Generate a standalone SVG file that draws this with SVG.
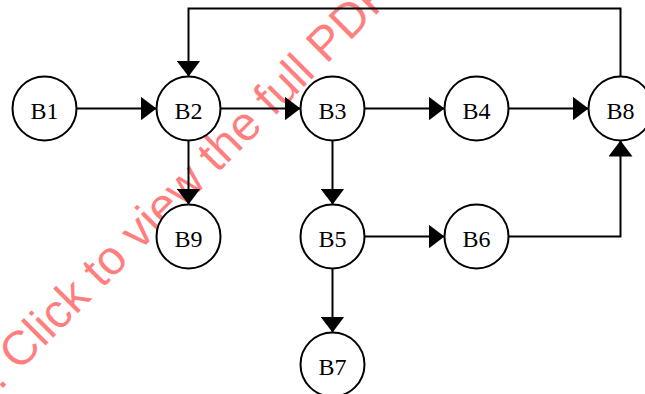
<svg xmlns="http://www.w3.org/2000/svg" width="645" height="394" viewBox="0 0 645 394">
<style>
.node circle{fill:#fff;stroke:#000;stroke-width:2}
.node text{font-family:"Liberation Serif",serif;font-size:24px;text-anchor:middle;fill:#000}
.edge{fill:none;stroke:#000;stroke-width:2}
.wm{font-family:"Liberation Sans",Arial,sans-serif;font-size:48px;fill:#ff0000;fill-opacity:0.5}
</style>
<defs>
<marker id="arr" viewBox="0 0 16 24" refX="16" refY="12" markerWidth="16" markerHeight="24" markerUnits="userSpaceOnUse" orient="auto">
<path d="M0,0 L16,12 L0,24 z" fill="#000"/>
</marker>
</defs>
<rect width="645" height="394" fill="#fff"/>
<text class="wm" transform="translate(0,391) rotate(-45)">: Click to view the full PDF</text>
<g id="connectors">
<path class="edge" marker-end="url(#arr)" d="M76.5,108.5 H156.5"/>
<path class="edge" marker-end="url(#arr)" d="M220.5,108.5 H300.5"/>
<path class="edge" marker-end="url(#arr)" d="M364.5,108.5 H444.5"/>
<path class="edge" marker-end="url(#arr)" d="M508.5,108.5 H588.5"/>
<path class="edge" marker-end="url(#arr)" d="M188.5,140.5 V204.5"/>
<path class="edge" marker-end="url(#arr)" d="M332.5,140.5 V204.5"/>
<path class="edge" marker-end="url(#arr)" d="M364.5,236.5 H444.5"/>
<path class="edge" marker-end="url(#arr)" d="M332.5,268.5 V332.5"/>
<path class="edge" marker-end="url(#arr)" d="M508.5,236.5 H620.5 V140.5"/>
<path class="edge" marker-end="url(#arr)" d="M620.5,76.5 V8.5 H188.5 V76.5"/>
</g>
<g id="B1" class="node"><circle cx="44.5" cy="108.5" r="32"/><text x="44.5" y="118.5">B1</text></g>
<g id="B2" class="node"><circle cx="188.5" cy="108.5" r="32"/><text x="188.5" y="118.5">B2</text></g>
<g id="B3" class="node"><circle cx="332.5" cy="108.5" r="32"/><text x="332.5" y="118.5">B3</text></g>
<g id="B4" class="node"><circle cx="476.5" cy="108.5" r="32"/><text x="476.5" y="118.5">B4</text></g>
<g id="B8" class="node"><circle cx="620.5" cy="108.5" r="32"/><text x="620.5" y="118.5">B8</text></g>
<g id="B9" class="node"><circle cx="188.5" cy="236.5" r="32"/><text x="188.5" y="246.5">B9</text></g>
<g id="B5" class="node"><circle cx="332.5" cy="236.5" r="32"/><text x="332.5" y="246.5">B5</text></g>
<g id="B6" class="node"><circle cx="476.5" cy="236.5" r="32"/><text x="476.5" y="246.5">B6</text></g>
<g id="B7" class="node"><circle cx="332.5" cy="364.5" r="32"/><text x="332.5" y="374.5">B7</text></g>
</svg>
